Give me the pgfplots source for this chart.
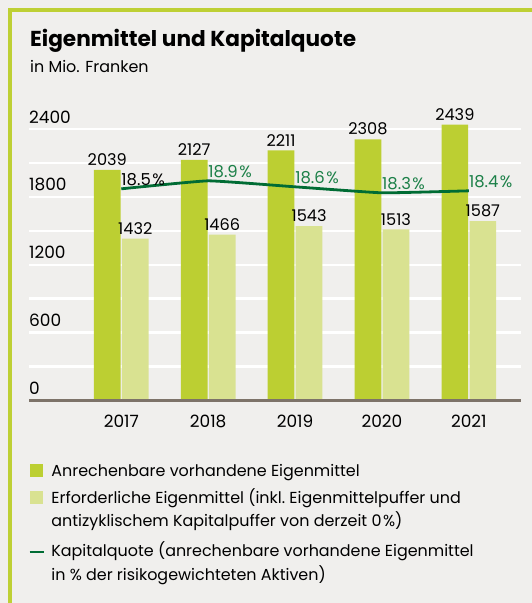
\documentclass[border=0pt]{standalone}
\usepackage{pgfplots}
\pgfplotsset{compat=1.18}
\usepackage{fontspec}
\setmainfont{Poppins}
\definecolor{bg}{RGB}{240,239,237}
\definecolor{lime}{RGB}{190,208,52}
\definecolor{barA}{RGB}{188,207,50}
\definecolor{barB}{RGB}{217,226,145}
\definecolor{lineG}{RGB}{0,108,52}
\definecolor{labG}{RGB}{28,128,72}
\definecolor{basec}{RGB}{125,115,105}
\pgfkeys{/pgf/number format/assume math mode=true,/pgf/number format/1000 sep={}}
\begin{document}
\begin{tikzpicture}
\fill[bg] (0,0) rectangle (532bp,-603bp);
\fill[lime] (7.5bp,-8bp) rectangle (532bp,-12bp);
\fill[lime] (7.5bp,-8bp) rectangle (11.5bp,-603bp);
\node[anchor=base west, inner sep=0] at (30bp,-46.7bp) {\fontsize{21.7}{25}\selectfont\bfseries Eigenmittel und Kapitalquote};
\node[anchor=base west, inner sep=0] at (30bp,-72.3bp) {\fontsize{16}{20}\selectfont in Mio. Franken};
\begin{axis}[
  at={(29bp,-400.7bp)}, anchor=south west,
  scale only axis, width=492bp, height=271.7bp,
  xmin=-1.062, xmax=4.6, ymin=0, ymax=2400,
  clip=false,
  ybar=1.3bp, bar width=26.7bp,
  axis line style={draw=none},
  tick style={draw=none},
  xtick={0,1,2,3,4},
  xticklabels={2017,2018,2019,2020,2021},
  xticklabel style={anchor=base, inner sep=0pt, yshift=-22.6bp, font=\fontsize{17}{20}\selectfont},
  ytick={0,600,1200,1800,2400},
  minor ytick={300,900,1500,2100},
  scaled y ticks=false,
  yticklabel style={anchor=south west, inner sep=0pt, yshift=5.7bp, font=\fontsize{17}{20}\selectfont},
  ymajorgrids, yminorgrids,
  major grid style={white, line width=2.7bp},
  minor grid style={white, line width=2.7bp},
  nodes near coords,
  every node near coord/.append style={black, inner sep=0pt, yshift=4bp, font=\fontsize{16.2}{18}\selectfont},
  legend style={at={(0,0)}, anchor=north west, xshift=-0.7bp, yshift=-62.85bp,
    draw=none, fill=none, inner sep=0pt, row sep=6.4bp, column sep=6.7bp,
    font=\fontsize{16}{23.5}\selectfont,
    cells={anchor=base west}, nodes={inner sep=0pt, text depth=}},
]
\addplot[fill=barA, draw=none,
  legend image code/.code={\fill[barA] (0bp,-0.7bp) rectangle (13.5bp,12.6bp);}]
  coordinates {(0,2039) (1,2127) (2,2211) (3,2308) (4,2439)};
\addlegendentry{Anrechenbare vorhandene Eigenmittel}
\addplot[fill=barB, draw=none,
  legend image code/.code={\fill[barB] (0bp,-0.7bp) rectangle (13.5bp,12.6bp);}]
  coordinates {(0,1432) (1,1466) (2,1543) (3,1513) (4,1587)};
\addlegendentry{\begin{tabular}[t]{@{}l@{}}Erforderliche Eigenmittel (inkl.\ Eigenmittelpuffer und\\antizyklischem Kapitalpuffer von derzeit 0\kern1.5bp\%)\end{tabular}}
\addlegendimage{legend image code/.code={\draw[lineG, line width=2.2bp] (0bp,5bp) -- (14bp,5bp);}}
\addlegendentry{\begin{tabular}[t]{@{}l@{}}Kapitalquote (anrechenbare vorhandene Eigenmittel\\in \% der risikogewichteten Aktiven)\end{tabular}}
\draw[basec, line width=2.5bp] (rel axis cs:0,0) -- (rel axis cs:1,0);
\end{axis}
\begin{axis}[
  at={(29bp,-400.7bp)}, anchor=south west,
  scale only axis, width=492bp, height=271.7bp,
  xmin=-1.062, xmax=4.6, ymin=7.91, ymax=21.49,
  clip=false, hide axis,
]
\addplot[lineG, line width=2.8bp, smooth, tension=0.2, mark=none]
  coordinates {(0,18.5) (1,18.9) (2,18.6) (3,18.3) (4,18.4)};
\addplot[draw=none, mark=none,
  nodes near coords={\pgfmathprintnumber[fixed,fixed zerofill,precision=1]{\pgfplotspointmeta}\kern1.5bp\%},
  every node near coord/.append style={anchor=south west, inner sep=0pt, yshift=3bp, black, font=\fontsize{16.5}{18}\selectfont}]
  coordinates {(0,18.5)};
\addplot[draw=none, mark=none,
  nodes near coords={\pgfmathprintnumber[fixed,fixed zerofill,precision=1]{\pgfplotspointmeta}\kern1.5bp\%},
  every node near coord/.append style={anchor=south west, inner sep=0pt, yshift=3bp, labG, font=\fontsize{16.5}{18}\selectfont}]
  coordinates {(1,18.9) (2,18.6) (3,18.3) (4,18.4)};
\end{axis}
\end{tikzpicture}
\end{document}
